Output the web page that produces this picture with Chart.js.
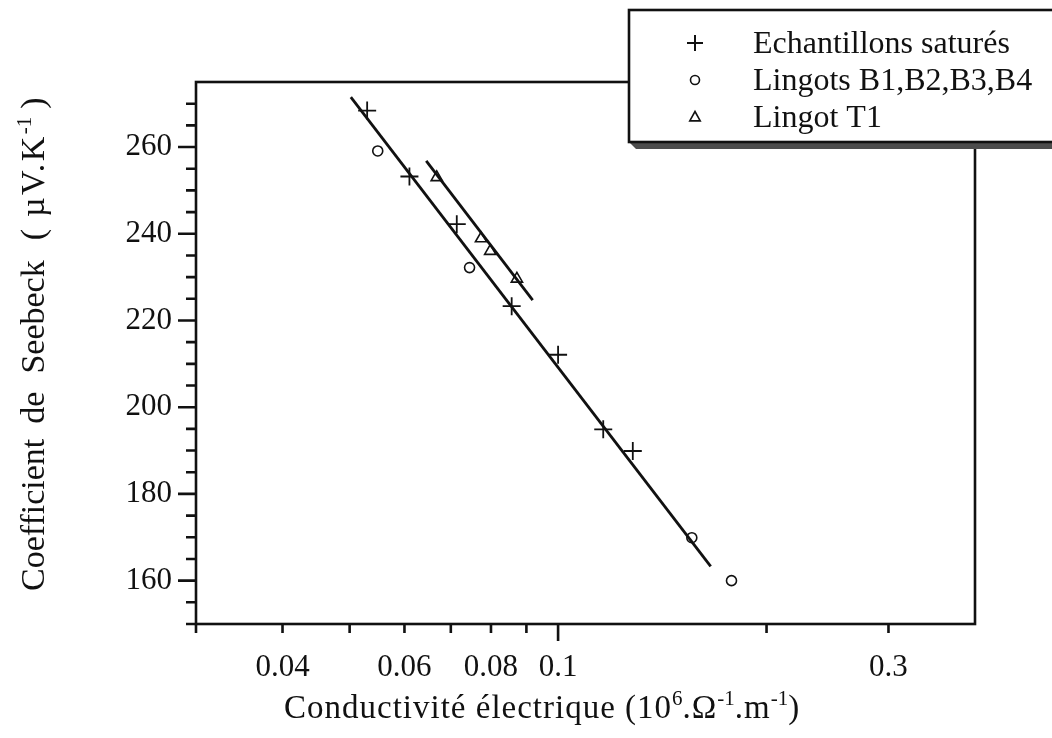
<!DOCTYPE html>
<html>
<head>
<meta charset="utf-8">
<script src="https://cdn.jsdelivr.net/npm/chart.js@4/dist/chart.umd.min.js"></script>
<style>
  html, body { margin: 0; padding: 0; background: #fff; }
  #wrap { width: 1052px; height: 738px; position: relative; }
</style>
</head>
<body>
<div id="wrap"><canvas id="seebeckChart"></canvas></div>
<script>
// values: conductivity (10^6 ohm^-1 m^-1) vs Seebeck coefficient (uV/K)
const saturesX = [0.0530, 0.0610, 0.0714, 0.0857, 0.1000, 0.1162, 0.1282];
const saturesY = [268.4, 253.2, 242.2, 223.3, 212.1, 194.9, 189.9];
const lingotsBX = [0.0549, 0.0745, 0.156, 0.178];
const lingotsBY = [259.1, 232.2, 169.9, 160.0];
const lingotT1X = [0.0668, 0.0774, 0.0798, 0.0872];
const lingotT1Y = [253.0, 238.9, 236.0, 229.6];

// fitted straight lines (end points)
const fitAllX = [0.0502, 0.1661];
const fitAllY = [271.5, 163.3];
const fitT1X = [0.0645, 0.0919];
const fitT1Y = [256.8, 224.7];

const seriesNames = ['Echantillons saturés', 'Lingots B1,B2,B3,B4', 'Lingot T1'];

const xTickValues = [0.03, 0.04, 0.05, 0.06, 0.07, 0.08, 0.09, 0.1, 0.2, 0.3, 0.4];
const xTickLabels = ['', '0.04', '', '0.06', '', '0.08', '', '0.1', '', '0.3', ''];
const yTickValues = [150, 155, 160, 165, 170, 175, 180, 185, 190, 195, 200, 205, 210,
                     215, 220, 225, 230, 235, 240, 245, 250, 255, 260, 265, 270, 275];
const yTickLabels = ['', '', '160', '', '', '', '180', '', '', '', '200', '', '',
                     '', '220', '', '', '', '240', '', '', '', '260', '', '', ''];

const serif = "'Liberation Serif', 'Times New Roman', serif";
const ink = '#111';

const toPoints = (xs, ys) => xs.map((x, i) => ({ x: x, y: ys[i] }));

// frame + tick marks (long ticks on labelled values / decades)
const framePlugin = {
  id: 'frame',
  afterDraw(chart) {
    const { ctx, chartArea: a, scales } = chart;
    const x = scales.x, y = scales.y;
    ctx.save();
    ctx.strokeStyle = ink;
    ctx.lineWidth = 2.6;
    ctx.strokeRect(a.left, a.top, a.right - a.left, a.bottom - a.top);
    ctx.beginPath();
    x.ticks.forEach(t => {
      if (t.value >= x.max) return;
      const px = x.getPixelForValue(t.value);
      const lg = Math.log10(t.value);
      const decade = Math.abs(lg - Math.round(lg)) < 1e-6;
      ctx.moveTo(px, a.bottom);
      ctx.lineTo(px, a.bottom + (decade ? 17 : 9));
    });
    y.ticks.forEach((t, i) => {
      if (t.value >= y.max) return;
      const py = y.getPixelForValue(t.value);
      const major = yTickLabels[i] !== '';
      ctx.moveTo(a.left, py);
      ctx.lineTo(a.left - (major ? 18 : 10), py);
    });
    ctx.stroke();
    ctx.restore();
  }
};

function drawMarker(ctx, style, cx, cy, r) {
  ctx.beginPath();
  if (style === 'cross') {
    ctx.moveTo(cx - r, cy); ctx.lineTo(cx + r, cy);
    ctx.moveTo(cx, cy - r); ctx.lineTo(cx, cy + r);
  } else if (style === 'circle') {
    ctx.arc(cx, cy, r, 0, Math.PI * 2);
  } else {
    ctx.moveTo(cx, cy - r);
    ctx.lineTo(cx + r * 0.95, cy + r * 0.7);
    ctx.lineTo(cx - r * 0.95, cy + r * 0.7);
    ctx.closePath();
  }
  ctx.stroke();
}

// boxed legend with a drop shadow, top right
const legendPlugin = {
  id: 'boxLegend',
  afterDraw(chart) {
    const ctx = chart.ctx;
    const bx = 629, by = 10, bw = 440, bh = 132;
    ctx.save();
    ctx.fillStyle = '#4d4d4d';
    ctx.beginPath();
    ctx.moveTo(bx, by + bh);
    ctx.lineTo(bx + bw, by + bh);
    ctx.lineTo(bx + bw, by + bh + 7);
    ctx.lineTo(bx + 7, by + bh + 7);
    ctx.closePath();
    ctx.fill();
    ctx.fillStyle = '#fff';
    ctx.fillRect(bx, by, bw, bh);
    ctx.strokeStyle = ink;
    ctx.lineWidth = 2.6;
    ctx.strokeRect(bx, by, bw, bh);

    const sizes = { cross: 8, circle: 4.5, triangle: 5.5 };
    chart.data.datasets.slice(0, 3).forEach((ds, i) => {
      const base = 53 + i * 37;
      ctx.lineWidth = ds.pointStyle === 'cross' ? 2 : 1.6;
      drawMarker(ctx, ds.pointStyle, 695, base - 10, sizes[ds.pointStyle]);
      ctx.fillStyle = ink;
      ctx.font = '32px ' + serif;
      ctx.textAlign = 'left';
      ctx.textBaseline = 'alphabetic';
      ctx.fillText(ds.label, 753, base);
    });
    ctx.restore();
  }
};

// draw text pieces in a row, with superscripts
function drawPieces(ctx, pieces, x0, y0, size, supSize) {
  let x = x0;
  pieces.forEach(p => {
    x += p.gap || 0;
    ctx.letterSpacing = (p.ls || 0) + 'px';
    ctx.font = (p.sup ? supSize : size) + 'px ' + serif;
    ctx.fillText(p.t, x, p.sup ? y0 - 13 : y0);
    x += ctx.measureText(p.t).width;
  });
  ctx.letterSpacing = '0px';
}

const titlesPlugin = {
  id: 'axisTitles',
  afterDraw(chart) {
    const { ctx, chartArea: a } = chart;
    ctx.save();
    ctx.fillStyle = ink;
    ctx.textAlign = 'left';
    ctx.textBaseline = 'alphabetic';
    drawPieces(ctx, [
      { t: 'Conductivité électrique (10', ls: 1 },
      { t: '6', sup: true },
      { t: '.Ω', ls: 1 },
      { t: '-1', sup: true },
      { t: '.m', ls: 1 },
      { t: '-1', sup: true },
      { t: ')' }
    ], a.left + 88, a.bottom + 94, 33, 21);

    ctx.translate(44, 591);
    ctx.rotate(-Math.PI / 2);
    drawPieces(ctx, [
      { t: 'Coefficient' },
      { t: 'de', gap: 15 },
      { t: 'Seebeck', gap: 18 },
      { t: '(', gap: 20 },
      { t: 'µV.K', gap: 12, ls: 2.5 },
      { t: '-1', sup: true, gap: 0 },
      { t: ')', gap: 8 }
    ], 0, 0, 34, 21);
    ctx.restore();
  }
};

new Chart(document.getElementById('seebeckChart'), {
  type: 'scatter',
  data: {
    datasets: [
      { label: seriesNames[0], data: toPoints(saturesX, saturesY), pointStyle: 'cross',
        pointRadius: 9, borderWidth: 1.8, borderColor: ink, backgroundColor: ink },
      { label: seriesNames[1], data: toPoints(lingotsBX, lingotsBY), pointStyle: 'circle',
        pointRadius: 5, borderWidth: 1.6, borderColor: ink, backgroundColor: 'rgba(0,0,0,0)' },
      { label: seriesNames[2], data: toPoints(lingotT1X, lingotT1Y), pointStyle: 'triangle',
        pointRadius: 6.5, borderWidth: 1.6, borderColor: ink, backgroundColor: 'rgba(0,0,0,0)' },
      { label: 'ajustement', data: toPoints(fitAllX, fitAllY), showLine: true,
        pointRadius: 0, borderColor: ink, borderWidth: 2.8 },
      { label: 'ajustement T1', data: toPoints(fitT1X, fitT1Y), showLine: true,
        pointRadius: 0, borderColor: ink, borderWidth: 2.8 }
    ]
  },
  options: {
    responsive: true,
    maintainAspectRatio: false,
    animation: false,
    layout: { padding: { top: 82, right: 77, left: 0, bottom: 0 } },
    plugins: { legend: { display: false }, tooltip: { enabled: false } },
    scales: {
      x: {
        type: 'logarithmic', min: 0.03, max: 0.4,
        grid: { display: false, drawTicks: false },
        border: { display: false },
        ticks: {
          autoSkip: false, maxRotation: 0, minRotation: 0, padding: 25, color: ink,
          font: { family: serif, size: 31 },
          callback: (v, i) => xTickLabels[i]
        },
        afterBuildTicks: s => { s.ticks = xTickValues.map(v => ({ value: v })); },
        afterFit: s => { s.height = 114; }
      },
      y: {
        type: 'linear', min: 150, max: 275,
        grid: { display: false, drawTicks: false },
        border: { display: false },
        ticks: {
          autoSkip: false, padding: 24, color: ink,
          font: { family: serif, size: 31 },
          callback: (v, i) => yTickLabels[i]
        },
        afterBuildTicks: s => { s.ticks = yTickValues.map(v => ({ value: v })); },
        afterFit: s => { s.width = 196; }
      }
    }
  },
  plugins: [framePlugin, legendPlugin, titlesPlugin]
});
</script>
</body>
</html>
